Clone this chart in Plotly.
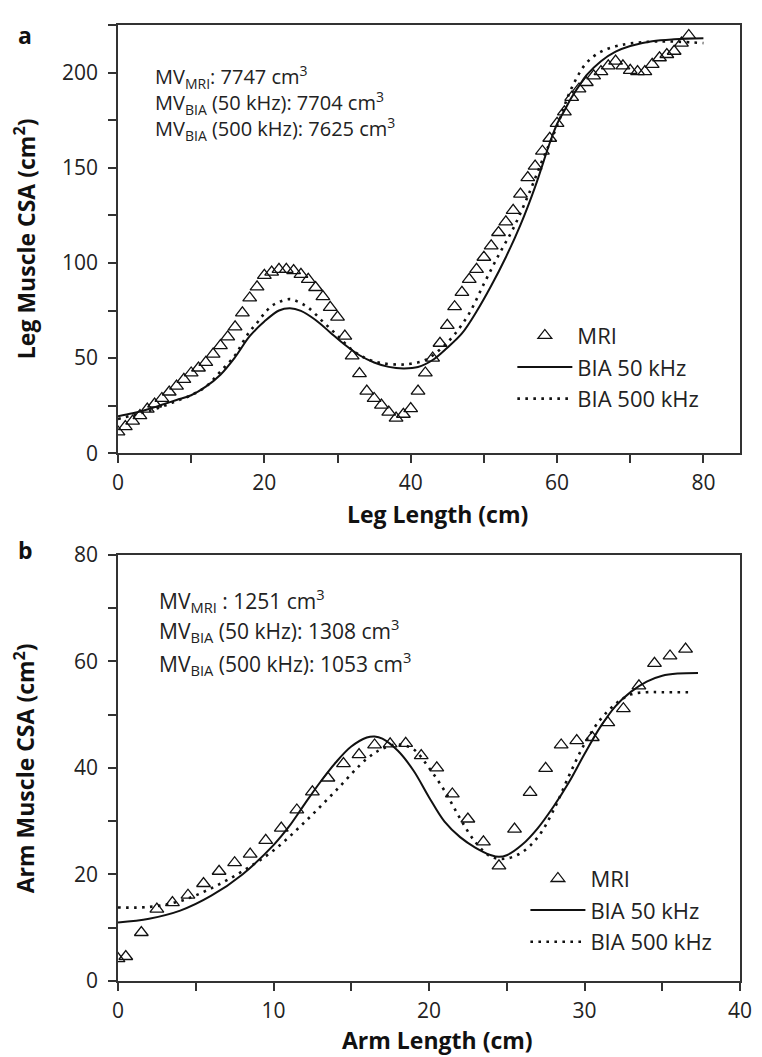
import plotly.graph_objects as go

# ---------- Panel a: leg ----------
leg_mri_x = list(range(0, 79))
leg_mri_y = [11.2, 14.0, 16.9, 19.8, 23.2, 25.9, 28.8, 32.2, 35.3, 38.8,
             42.2, 44.8, 47.8, 52.1, 56.6, 61.2, 66.4, 73.8, 81.6, 87.4,
             93.5, 95.2, 96.6, 96.6, 96.0, 94.0, 91.4, 87.1, 82.3, 76.7,
             71.5, 61.6, 51.2, 41.9, 32.7, 28.8, 25.3, 21.6, 18.5, 20.5,
             23.5, 32.7, 42.2, 50.0, 57.8, 67.2, 77.0, 84.5, 91.4, 96.6,
             103.0, 109.0, 116.0, 121.6, 127.6, 136.2, 144.8, 150.9, 158.7, 165.5,
             173.3, 179.4, 187.0, 191.4, 194.8, 198.3, 200.5, 203.5, 206.0, 203.5,
             201.2, 200.5, 200.5, 204.3, 207.8, 209.5, 211.2, 215.5, 219.5]

leg_50_x = [0, 2, 4, 6, 8, 10, 12, 14, 16, 18, 20, 22, 23.5, 25, 27, 29, 31, 33, 35, 37,
            39, 41, 43, 45, 47, 49, 51, 53, 55, 57, 59, 60, 61, 62, 63, 64, 66, 68, 70, 73, 76, 80]
leg_50_y = [19.5, 21.0, 23.0, 25.5, 28.0, 30.5, 35.0, 41.3, 50.5, 61.5, 69.2, 75.0, 76.2, 74.8, 70.0,
            63.5, 57.0, 51.5, 47.7, 45.4, 44.6, 45.3, 49.0, 55.5, 63.0, 74.5, 88.0, 103.0, 120.0, 140.0,
            163.0, 173.0, 180.0, 187.0, 193.0, 198.5, 206.0, 211.0, 214.0, 216.5, 217.5, 218.0]

leg_500_x = [0, 2, 4, 6, 8, 10, 12, 14, 16, 17, 18, 19, 20, 21, 22, 23.4, 24.5, 26, 28, 30,
             32, 34, 36, 38.4, 40, 42, 44, 46, 48, 50, 52, 54, 56, 58, 60, 62, 64, 66, 68, 70, 74, 80]
leg_500_y = [18.0, 20.0, 22.0, 24.5, 27.5, 30.5, 35.0, 43.0, 51.5, 58.0, 64.0, 68.5, 73.5, 77.4, 79.5,
             81.0, 79.8, 76.5, 69.2, 61.8, 54.3, 49.6, 47.4, 46.6, 47.0, 49.0, 54.5, 62.5, 73.5, 89.0,
             104.0, 118.0, 135.0, 154.0, 172.0, 192.0, 205.0, 211.0, 213.8, 215.3, 216.4, 215.5]

# ---------- Panel b: arm ----------
arm_mri_x = [0, 0.5, 1.5, 2.5, 3.5, 4.5, 5.5, 6.5, 7.5, 8.5, 9.5, 10.5, 11.5, 12.5, 13.5,
             14.5, 15.5, 16.5, 17.5, 18.5, 19.5, 20.5, 21.5, 22.5, 23.5, 24.5, 25.5, 26.5,
             27.5, 28.5, 29.5, 30.5, 31.5, 32.5, 33.5, 34.5, 35.5, 36.5]
arm_mri_y = [4.2, 4.6, 9.1, 13.5, 14.7, 16.1, 18.3, 20.6, 22.2, 23.8, 26.4, 28.7, 32.1, 35.5,
             38.1, 40.8, 42.5, 44.3, 44.5, 44.6, 42.3, 40.0, 35.1, 30.4, 26.1, 21.6, 28.5, 35.4,
             39.9, 44.3, 45.1, 45.7, 48.5, 51.1, 55.4, 59.6, 61.0, 62.3]

arm_50_x = [0, 2, 4, 6, 8, 10, 11, 12, 13, 14, 15, 16, 16.5, 17, 18, 19, 20, 21, 22, 23,
            24, 24.5, 25, 26, 27, 28, 29, 30, 31, 32, 33, 34, 35, 36, 37.3]
arm_50_y = [11.0, 11.7, 13.2, 16.0, 20.0, 25.5, 29.0, 33.2, 37.3, 41.0, 44.0, 45.7, 45.9, 45.5,
            43.2, 39.5, 34.5, 29.9, 27.0, 25.0, 23.6, 23.3, 23.6, 25.6, 28.7, 32.7, 37.3, 42.6,
            47.6, 51.6, 54.3, 56.2, 57.3, 57.7, 57.8]

arm_500_x = [0, 2, 4, 6, 8, 10, 12, 14, 16, 17, 18, 19, 20, 21, 22, 23, 24, 25, 26, 27,
             28, 29, 30, 31, 32, 33, 34, 35, 37]
arm_500_y = [13.8, 13.9, 15.0, 17.4, 20.6, 24.5, 29.8, 35.7, 41.7, 43.6, 44.4, 43.5, 40.0, 35.7,
             30.5, 26.0, 23.3, 23.0, 24.2, 27.0, 32.0, 38.5, 44.5, 49.0, 52.0, 53.8, 54.2, 54.2, 54.2]

top_text = ("MV<sub>MRI</sub>: 7747 cm<sup>3</sup><br>"
            "MV<sub>BIA</sub> (50 kHz): 7704 cm<sup>3</sup><br>"
            "MV<sub>BIA</sub> (500 kHz): 7625 cm<sup>3</sup>")
bot_lines = ["MV<sub>MRI</sub> : 1251 cm<sup>3</sup>",
             "MV<sub>BIA</sub> (50 kHz): 1308 cm<sup>3</sup>",
             "MV<sub>BIA</sub> (500 kHz): 1053 cm<sup>3</sup>"]
bot_ys = [71.5, 65.7, 59.5]

FONT = "Open Sans"
BLACK = "#111111"
AX = "#333333"
TXT = "#222222"

fig = go.Figure()

def add_panel(mx, my, sx, sy, dx, dy, xa, ya, lg):
    fig.add_trace(go.Scatter(x=mx, y=my, mode="markers", name="MRI", xaxis=xa, yaxis=ya, legend=lg,
                             marker=dict(symbol="triangle-up-open", size=12, color=BLACK,
                                         line=dict(width=1.3, color=BLACK))))
    fig.add_trace(go.Scatter(x=sx, y=sy, mode="lines", name="BIA 50 kHz", xaxis=xa, yaxis=ya, legend=lg,
                             line=dict(color=BLACK, width=2, shape="spline")))
    fig.add_trace(go.Scatter(x=dx, y=dy, mode="lines", name="BIA 500 kHz", xaxis=xa, yaxis=ya, legend=lg,
                             line=dict(color=BLACK, width=2.6, dash="2.6px,5.4px", shape="spline")))

add_panel(leg_mri_x, leg_mri_y, leg_50_x, leg_50_y, leg_500_x, leg_500_y, "x", "y", "legend")
add_panel(arm_mri_x, arm_mri_y, arm_50_x, arm_50_y, arm_500_x, arm_500_y, "x2", "y2", "legend2")

tickfont = dict(family=FONT, size=21, color=TXT)
titlefont = dict(family=FONT, size=23, color=BLACK, weight="bold")

def xax(rng, dtick, minor, anchor):
    return dict(range=rng, dtick=dtick, tick0=0, ticks="outside", ticklen=8, tickwidth=1.5,
                tickcolor=AX, showline=True, linecolor=AX, linewidth=1.5, mirror=True,
                showgrid=False, zeroline=False, tickfont=tickfont, anchor=anchor,
                minor=dict(dtick=minor, ticks="outside", ticklen=8, tickwidth=1.5, tickcolor=AX, showgrid=False),
                ticklabelstandoff=2)

def yax(rng, dtick, minor, domain, anchor):
    return dict(range=rng, dtick=dtick, tick0=0, ticks="outside", ticklen=8, tickwidth=1.5,
                tickcolor=AX, showline=True, linecolor=AX, linewidth=1.5, mirror=True,
                showgrid=False, zeroline=False, tickfont=tickfont, domain=domain, anchor=anchor,
                minor=dict(dtick=minor, ticks="outside", ticklen=8, tickwidth=1.5, tickcolor=AX, showgrid=False),
                ticklabelstandoff=6)

legfont = dict(family=FONT, size=22, color=TXT)
fig.update_layout(
    width=762, height=1057,
    margin=dict(l=118, r=19, t=10, b=76),
    paper_bgcolor="white", plot_bgcolor="white",
    showlegend=True,
    xaxis=xax([0, 85], 20, 10, "y"),
    yaxis=yax([0, 225], 50, 25, [0.552, 1.0], "x"),
    xaxis2=xax([0, 40], 10, 5, "y2"),
    yaxis2=yax([0, 80], 20, 10, [0.0, 0.4459], "x2"),
    legend=dict(x=0.634, y=0.697, xanchor="left", yanchor="top", font=legfont,
                bgcolor="rgba(0,0,0,0)", itemwidth=55, tracegroupgap=0),
    legend2=dict(x=0.655, y=0.129, xanchor="left", yanchor="top", font=legfont,
                 bgcolor="rgba(0,0,0,0)", itemwidth=55, tracegroupgap=0),
)

# axis titles
fig.add_annotation(x=0.5136, y=0.4882, xref="paper", yref="paper", text="Leg Length (cm)",
                   showarrow=False, xanchor="center", yanchor="middle", font=titlefont)
fig.add_annotation(x=0.5136, y=-0.0618, xref="paper", yref="paper", text="Arm Length (cm)",
                   showarrow=False, xanchor="center", yanchor="middle", font=titlefont)
fig.add_annotation(x=-0.1495, y=0.776, xref="paper", yref="paper", text="Leg Muscle CSA (cm<sup>2</sup>)",
                   showarrow=False, xanchor="center", yanchor="middle", textangle=-90, font=titlefont)
fig.add_annotation(x=-0.1495, y=0.2225, xref="paper", yref="paper", text="Arm Muscle CSA (cm<sup>2</sup>)",
                   showarrow=False, xanchor="center", yanchor="middle", textangle=-90, font=titlefont)

fig.add_annotation(x=4.8, y=184.0, xref="x", yref="y", text=top_text, showarrow=False,
                   xanchor="left", yanchor="middle", align="left",
                   font=dict(family=FONT, size=20, color=TXT))
for t, yv in zip(bot_lines, bot_ys):
    fig.add_annotation(x=2.5, y=yv, xref="x2", yref="y2", text=t, showarrow=False,
                       xanchor="left", yanchor="middle", font=dict(family=FONT, size=21, color=TXT))

labfont = dict(family=FONT, size=23, color=BLACK, weight="bold")
fig.add_annotation(x=-0.149, y=0.99, xref="paper", yref="paper", text="a", showarrow=False,
                   xanchor="center", yanchor="middle", font=labfont)
fig.add_annotation(x=-0.149, y=0.451, xref="paper", yref="paper", text="b", showarrow=False,
                   xanchor="center", yanchor="middle", font=labfont)

fig.write_html("out.html")
